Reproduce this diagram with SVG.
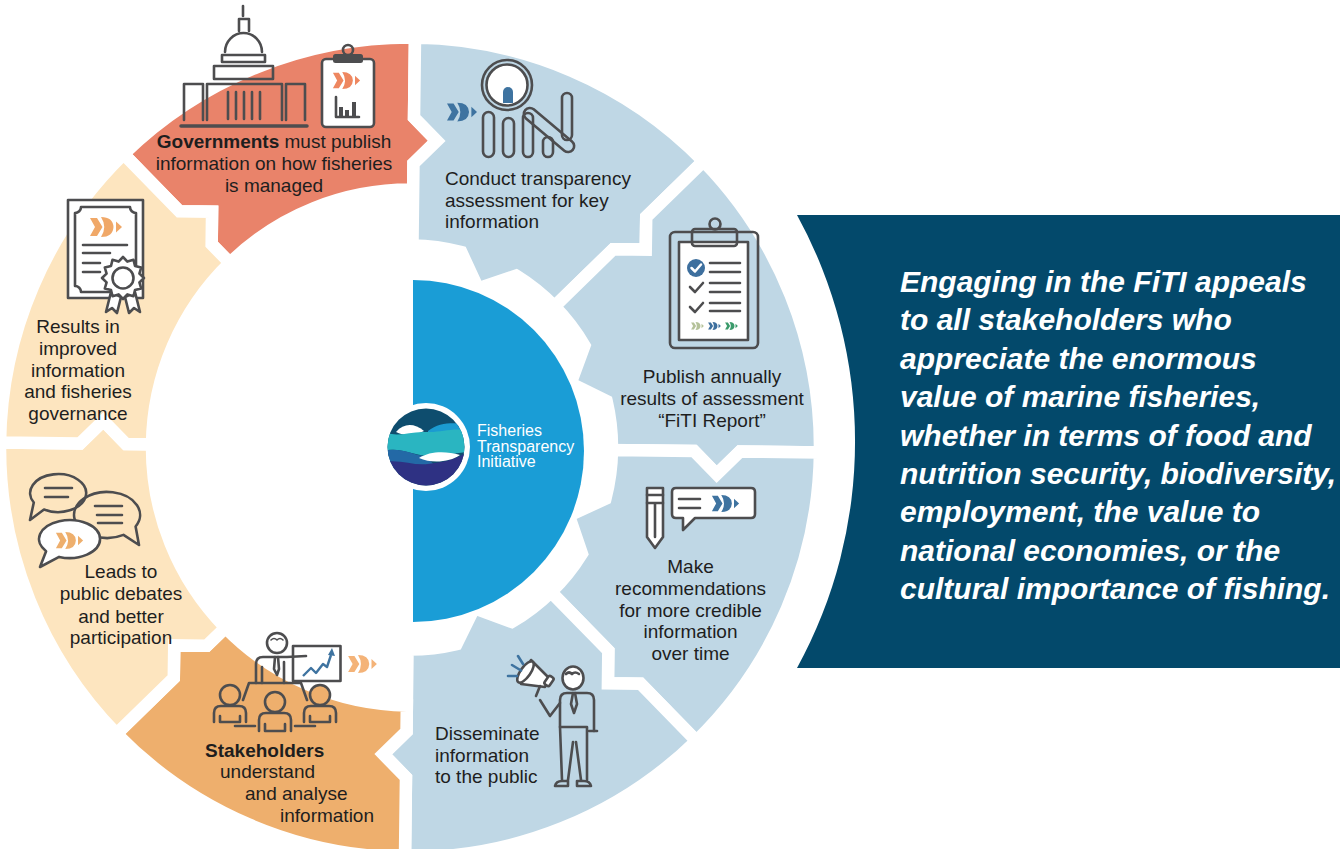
<svg xmlns="http://www.w3.org/2000/svg" xmlns:xlink="http://www.w3.org/1999/xlink" width="1340" height="849" viewBox="0 0 1340 849">
  <defs>
    <style>
      .seg { stroke: #ffffff; stroke-width: 12.5; stroke-linejoin: miter; }
      .blue { fill: #BFD7E5; }
      .red { fill: #E9836A; }
      .beige { fill: #FDE5BF; }
      .orange { fill: #EEAF6D; }
      .ic { fill: none; stroke: #4D4D4F; stroke-width: 2.6; stroke-linejoin: round; stroke-linecap: round; }
      .icw { fill: #ffffff; stroke: #4D4D4F; stroke-width: 2.6; stroke-linejoin: round; stroke-linecap: round; }
      .lbl { font-family: "Liberation Sans", Arial, sans-serif; font-size: 19px; fill: #1E1E1E; }
      .mid { text-anchor: middle; }
      .b { font-weight: bold; }
      .logo { font-family: "Liberation Sans", Arial, sans-serif; font-size: 16px; fill: #ffffff; }
      .panel { font-family: "Liberation Sans", Arial, sans-serif; font-size: 30px; font-weight: bold; font-style: italic; fill: #ffffff; }
    </style>
    <!-- stylised fish mark: tail chevron, body crescent, head -->
    <symbol id="fish" viewBox="0 0 32 20" overflow="visible">
      <path d="M0,1 H7 L12.5,10 L7,19 H0 L5,10 Z"/>
      <path d="M11,0 Q23,0 23.5,10 Q23,20 11,20 Q17.5,10 11,0 Z"/>
      <path d="M26,4.5 L32,10 L26,15.5 Z"/>
    </symbol>
    <clipPath id="logoClip">
      <circle cx="426" cy="447" r="38.5"/>
    </clipPath>
  </defs>

  <rect width="1340" height="849" fill="#ffffff"/>

  <!-- Governments -->
  <g id="node-governments">
    <path class="seg red" transform="translate(410 447.5) rotate(0.7)" d="M-289.9,-289.9 A410,410 0 0 1 0,-410 L0,-330 L23,-307 L0,-284 L0,-258 A258,258 0 0 0 -182.4,-182.4 L-200.8,-200.8 L-200.8,-233.3 L-233.4,-233.4 Z"/>
    <!-- capitol -->
    <g class="ic" stroke-width="3">
      <path d="M243,6 V16"/>
      <path d="M239,31 V19 H249 V31"/>
      <path d="M225,52 A18.5,19 0 0 1 262,52"/>
      <rect x="222" y="55" width="43" height="7"/>
      <rect x="214" y="66" width="59" height="13"/>
      <path d="M184,120 V84 H203 V120"/>
      <path d="M207,120 V84 H282 V120"/>
      <path d="M286,120 V84 H305 V120"/>
      <path d="M228,92 V119 M236,92 V119 M244,92 V119 M252,92 V119 M260,92 V119"/>
      <path d="M181,126 H307" stroke-width="3.5"/>
    </g>
    <!-- report clipboard -->
    <rect class="icw" x="322" y="59" width="52" height="68" rx="4" stroke-width="3"/>
    <circle class="ic" cx="348" cy="50" r="5" stroke-width="3"/>
    <rect x="333" y="54" width="30" height="9" rx="2.5" fill="#4D4D4F"/>
    <use href="#fish" x="330" y="72" width="33" height="17" fill="#EE8760"/>
    <path class="ic" d="M336,97 V117 H359" stroke-width="2.4"/>
    <rect x="339" y="107" width="4" height="9" fill="#4D4D4F"/>
    <rect x="345" y="110" width="4" height="6" fill="#4D4D4F"/>
    <rect x="352" y="102" width="4" height="14" fill="#4D4D4F"/>
    <text class="lbl mid" x="274" y="148"><tspan class="b">Governments</tspan> must publish</text>
    <text class="lbl mid" x="274" y="170">information on how fisheries</text>
    <text class="lbl mid" x="274" y="192">is managed</text>
  </g>

  <!-- Conduct transparency assessment -->
  <g id="node-assessment">
    <path class="seg blue" transform="translate(410 447.5) rotate(0.7)" d="M0,-410 A410,410 0 0 1 289.9,-289.9 L233.4,-233.4 L233.3,-200.8 L200.8,-200.8 L142.8,-142.8 A202,202 0 0 0 104,-173.2 L66.2,-159.8 L48.9,-196 A202,202 0 0 0 0,-202 L0,-284 L23,-307 L0,-330 Z"/>
    <use href="#fish" x="447" y="102" width="30" height="20" fill="#3E73A0"/>
    <g class="ic" stroke-width="2.8">
      <rect x="483" y="112" width="11" height="45" rx="5.5"/>
      <rect x="503" y="118" width="11" height="39" rx="5.5"/>
      <rect x="523" y="113" width="10" height="44" rx="5"/>
      <rect x="543" y="137" width="10" height="20" rx="5"/>
      <rect x="562" y="93" width="10" height="47" rx="5"/>
    </g>
    <rect class="ic" x="-31" y="-6" width="62" height="12" rx="6" transform="translate(549 130) rotate(40)" fill="#BFD7E5" stroke-width="2.8"/>
    <circle class="ic" cx="507" cy="85" r="25" fill="#BFD7E5" stroke-width="2.8"/>
    <circle class="icw" cx="507" cy="85" r="20.5" stroke-width="2.8"/>
    <path d="M503,103 V92 A5,5 0 0 1 513,92 V103 Z" fill="#3E73A0"/>
    <text class="lbl" x="445" y="185">Conduct transparency</text>
    <text class="lbl" x="445" y="207">assessment for key</text>
    <text class="lbl" x="445" y="228">information</text>
  </g>

  <!-- Publish annually -->
  <g id="node-publish">
    <path class="seg blue" transform="translate(410 447.5) rotate(0.7)" d="M289.9,-289.9 A410,410 0 0 1 410,0 L330,0 L307,23 L284,0 L202,0 A202,202 0 0 0 196,-48.9 L159.8,-66.2 L173.2,-104 A202,202 0 0 0 142.8,-142.8 L200.8,-200.8 L233.3,-200.8 L233.4,-233.4 Z"/>
    <rect class="ic" x="670" y="232" width="88" height="116" rx="5" stroke-width="3"/>
    <rect class="icw" x="679" y="242" width="69" height="98" stroke-width="2.6"/>
    <circle class="ic" cx="715" cy="224" r="5.5" fill="#B8BECE" stroke-width="2.6"/>
    <rect class="ic" x="692" y="229" width="45" height="17" rx="3" fill="#B8BECE" stroke-width="2.6"/>
    <circle cx="696" cy="268" r="9" fill="#3D6F9E"/>
    <path d="M691.5,268 L695,271.5 L701,264.5" fill="none" stroke="#ffffff" stroke-width="2.5" stroke-linecap="round" stroke-linejoin="round"/>
    <g class="ic" stroke-width="2.6">
      <path d="M710,263 H740 M710,272 H740 M710,283 H740 M710,292 H740 M710,303 H740 M710,311 H740"/>
      <path d="M690,287 L695,292 L703,283 M690,307 L695,312 L703,303"/>
    </g>
    <use href="#fish" x="691" y="322" width="13" height="8" fill="#B5C29A"/>
    <use href="#fish" x="708" y="322" width="13" height="8" fill="#3D6F9E"/>
    <use href="#fish" x="725" y="322" width="13" height="8" fill="#3A9A6B"/>
    <text class="lbl mid" x="712" y="383">Publish annually</text>
    <text class="lbl mid" x="712" y="405">results of assessment</text>
    <text class="lbl mid" x="712" y="427">“FiTI Report”</text>
  </g>

  <!-- Make recommendations -->
  <g id="node-recommendations">
    <path class="seg blue" transform="translate(410 447.5) rotate(0.7)" d="M410,0 A410,410 0 0 1 289.9,289.9 L233.4,233.4 L200.8,233.3 L200.8,200.8 L142.8,142.8 A202,202 0 0 0 173.2,104 L159.8,66.2 L196,48.9 A202,202 0 0 0 202,0 L284,0 L307,23 L330,0 Z"/>
    <path class="icw" d="M647,537 V488 H663 V537 L655,548 Z" stroke-width="2.8"/>
    <path class="ic" d="M647,495 H663 M647,503 H663 M655,503 V537" stroke-width="2.4"/>
    <path class="icw" d="M677,488 H751 Q755,488 755,492 V514 Q755,518 751,518 H695 L683,530 V518 H676 Q672,518 672,514 V492 Q672,488 676,488 Z" stroke-width="2.8"/>
    <path class="ic" d="M679,499 H700 M679,508 H700" stroke-width="2.6"/>
    <use href="#fish" x="710" y="495" width="31" height="17" fill="#3E73A0"/>
    <text class="lbl mid" x="690.5" y="573">Make</text>
    <text class="lbl mid" x="690.5" y="595">recommendations</text>
    <text class="lbl mid" x="690.5" y="617">for more credible</text>
    <text class="lbl mid" x="690.5" y="638">information</text>
    <text class="lbl mid" x="690.5" y="660">over time</text>
  </g>

  <!-- Disseminate information -->
  <g id="node-disseminate">
    <path class="seg blue" transform="translate(410 447.5) rotate(0.7)" d="M289.9,289.9 A410,410 0 0 1 0,410 L0,330 L-23,307 L0,284 L0,202 A202,202 0 0 0 48.9,196 L66.2,159.8 L104,173.2 A202,202 0 0 0 142.8,142.8 L200.8,200.8 L200.8,233.3 L233.4,233.4 Z"/>
    <g class="ic" stroke-width="2.4">
      <!-- body -->
      <path d="M560,727 V700 Q560,693 567,693 H587 Q594,693 594,700 V731"/>
      <path d="M589,731 H597"/>
      <path d="M560,727 H587 V780 M560,727 L562,780 M573,742 L568,780 M576,742 L581,780"/>
      <path d="M555,786 Q556,781 562,781 H568 V786 Z M577,786 V781 H584 Q590,781 591,786 Z"/>
      <path d="M573,693 L571,704 L574,713 L577,704 L575,693"/>
      <!-- raised arm -->
      <path d="M560,703 L550,716 L540,700"/>
      <!-- megaphone -->
      <path d="M531,660 L549,678 L545,687 L521,684 Z" fill="#ffffff"/>
      <ellipse cx="525.5" cy="672" rx="5" ry="12.5" transform="rotate(35 525.5 672)" fill="#ffffff"/>
      <rect x="546" y="676" width="6" height="10" rx="2" transform="rotate(35 549 681)" fill="#ffffff"/>
      <path d="M540,686 L536,696"/>
    </g>
    <ellipse class="icw" cx="573" cy="678" rx="10.5" ry="11.5" stroke-width="2.4"/>
    <path class="ic" d="M566,674 Q569,671 572,674 Q575,671 579,674" stroke-width="1.8"/>
    <path d="M508,676 H517 M512,665 L521,670.5 M518,656 L523,664" stroke="#3E73A0" stroke-width="2.6" stroke-linecap="round" fill="none"/>
    <text class="lbl" x="435" y="740">Disseminate</text>
    <text class="lbl" x="435" y="762">information</text>
    <text class="lbl" x="435" y="783">to the public</text>
  </g>

  <!-- Stakeholders -->
  <g id="node-stakeholders">
    <path class="seg orange" transform="translate(410 447.5) rotate(0.7)" d="M0,410 A410,410 0 0 1 -289.9,289.9 L-233.4,233.4 L-233.3,200.8 L-200.8,200.8 L-182.4,182.4 A258,258 0 0 0 0,258 L0,284 L-23,307 L0,330 Z"/>
    <rect class="icw" x="293" y="646" width="47.5" height="35" stroke-width="2.4"/>
    <path d="M303,676 L311,668 L316,673 L323,664 L327,667 L331,655" fill="none" stroke="#3E73A0" stroke-width="2.4" stroke-linejoin="round"/>
    <path d="M328,655 L332,648 L335,656 Z" fill="#3E73A0"/>
    <g class="ic" stroke-width="2.4">
      <!-- presenter -->
      <circle cx="277" cy="643" r="10"/>
      <path d="M271,640 Q274,637 277,640 Q280,637 283,640" stroke-width="1.6"/>
      <path d="M256,683 V664 Q256,657 263,657 H287 L306,656"/>
      <path d="M262,667 V683 M284,662 V683"/>
      <path d="M275,657 L274,669 L277,675 L279,669 L278,657"/>
      <!-- table -->
      <path d="M243,700 L249,683 H301 L307,700"/>
      <!-- audience -->
      <circle cx="230" cy="695" r="10" fill="#EEAF6D"/>
      <circle cx="275" cy="702" r="10" fill="#EEAF6D"/>
      <circle cx="320" cy="695" r="10" fill="#EEAF6D"/>
      <path d="M214,722 V713 Q214,706 221,706 H239 Q246,706 246,713 V722 M220,716 V722 H240 V716" fill="#EEAF6D"/>
      <path d="M259,731 V720 Q259,713 266,713 H284 Q291,713 291,720 V731 M265,724 V731 H285 V724" fill="#EEAF6D"/>
      <path d="M304,722 V713 Q304,706 311,706 H329 Q336,706 336,713 V722 M310,716 V722 H330 V716" fill="#EEAF6D"/>
      <path d="M235,726 H255 M295,726 H315"/>
    </g>
    <use href="#fish" x="347" y="655" width="31" height="18" fill="#F4B378"/>
    <text class="lbl b" x="205" y="757">Stakeholders</text>
    <text class="lbl" x="220" y="778">understand</text>
    <text class="lbl" x="245" y="800">and analyse</text>
    <text class="lbl" x="280" y="822">information</text>
  </g>

  <!-- Leads to public debates -->
  <g id="node-debates">
    <path class="seg beige" transform="translate(410 447.5) rotate(0.7)" d="M-289.9,289.9 A410,410 0 0 1 -410,0 L-330,0 L-307,-23 L-284,0 L-258,0 A258,258 0 0 0 -182.4,182.4 L-200.8,200.8 L-233.3,200.8 L-233.4,233.4 Z"/>
    <path class="ic" d="M44,509.5 A28,19 0 1 0 33.8,502.5 L30,520 Z" fill="#FDE5BF"/>
    <path class="ic" d="M45,488 H72 M45,497 H68"/>
    <path class="ic" d="M123.5,534.9 A33,23 0 1 1 135.6,526.5 L139,545 Z" fill="#FDE5BF"/>
    <path class="ic" d="M95,506 H122 M97,515 H122 M98,523 H122"/>
    <path class="icw" d="M59.1,556.9 A30.5,19 0 1 0 46.1,551.2 L40,567 Z"/>
    <use href="#fish" x="54" y="532" width="31" height="17" fill="#EEAF6D"/>
    <text class="lbl mid" x="121" y="578">Leads to</text>
    <text class="lbl mid" x="121" y="600">public debates</text>
    <text class="lbl mid" x="121" y="623">and better</text>
    <text class="lbl mid" x="121" y="644">participation</text>
  </g>

  <!-- Results in improved governance -->
  <g id="node-governance">
    <path class="seg beige" transform="translate(410 447.5) rotate(0.7)" d="M-410,0 A410,410 0 0 1 -289.9,-289.9 L-233.4,-233.4 L-200.8,-233.3 L-200.8,-200.8 L-182.4,-182.4 A258,258 0 0 0 -258,0 L-284,0 L-307,-23 L-330,0 Z"/>
    <rect class="icw" x="68" y="200" width="75" height="98" stroke-width="3"/>
    <path class="ic" d="M81,207 H130 A6,6 0 0 0 136,213 V286 A6,6 0 0 0 130,292 H81 A6,6 0 0 0 75,286 V213 A6,6 0 0 0 81,207 Z" stroke-width="2.4"/>
    <use href="#fish" x="90" y="217" width="32" height="20" fill="#F0A868"/>
    <path class="ic" d="M83,245 H127 M83,253 H110 M83,263 H100 M83,272 H100" stroke-width="2.6"/>
    <path class="icw" d="M111,292 L106,312 L112,308 L117,313 L121,297 Z M125,297 L129,313 L134,308 L140,312 L135,292 Z" stroke-width="2.4"/>
    <polygon class="icw" stroke-width="2.4" points="144,278 139.4,282.4 141.2,288.5 135,290 133.5,296.2 127.4,294.4 123,299 118.6,294.4 112.5,296.2 111,290 104.8,288.5 106.6,282.4 102,278 106.6,273.6 104.8,267.5 111,266 112.5,259.8 118.6,261.6 123,257 127.4,261.6 133.5,259.8 135,266 141.2,267.5 139.4,273.6"/>
    <circle class="ic" cx="123" cy="278" r="10.5" stroke-width="2.4"/>
    <text class="lbl mid" x="78" y="333">Results in</text>
    <text class="lbl mid" x="78" y="355">improved</text>
    <text class="lbl mid" x="78" y="377">information</text>
    <text class="lbl mid" x="78" y="398">and fisheries</text>
    <text class="lbl mid" x="78" y="420">governance</text>
  </g>

  <!-- centre: FiTI half disc and logo -->
  <g id="node-fiti">
    <path d="M413,280 A171,171 0 0 1 413,622 Z" fill="#1A9DD6"/>
    <circle cx="426" cy="447" r="44" fill="#ffffff"/>
    <g clip-path="url(#logoClip)">
      <rect x="385" y="406" width="84" height="84" fill="#0E4D6E"/>
      <path d="M428,431 C440,421 455,423 470,424 L470,438 L428,438 Z" fill="#1B9BD1"/>
      <path d="M396,432 C404,423 414,423 424,431 C414,436 404,436 396,432 Z" fill="#ffffff"/>
      <path d="M384,432 C398,438 410,431 426,432 C442,433 452,427 470,431 L470,452 C454,452 442,458 426,456 C410,454 398,447 384,451 Z" fill="#2AB5C1"/>
      <path d="M384,451 C398,447 410,453 426,457 L440,470 L384,470 Z" fill="#2369A6"/>
      <path d="M384,462 C400,459 414,466 428,464 C444,462 456,460 470,450 L470,492 L384,492 Z" fill="#2E3183"/>
      <path d="M419,458 C430,451 446,451 460,455 C450,462 432,464 419,458 Z" fill="#ffffff"/>
    </g>
    <text class="logo"><tspan x="477" y="436">Fisheries</tspan><tspan x="477" y="452">Transparency</tspan><tspan x="477" y="467">Initiative</tspan></text>
  </g>

  <!-- statement panel -->
  <g id="node-statement">
    <path d="M797,215 H1340 V668 H797 A471,471 0 0 0 797,215 Z" fill="#03496B"/>
    <text class="panel" x="900" y="292">Engaging in the FiTI appeals</text>
    <text class="panel" x="900" y="330.4">to all stakeholders who</text>
    <text class="panel" x="900" y="368.8">appreciate the enormous</text>
    <text class="panel" x="900" y="407.2">value of marine fisheries,</text>
    <text class="panel" x="900" y="445.6">whether in terms of food and</text>
    <text class="panel" x="900" y="484">nutrition security, biodiversity,</text>
    <text class="panel" x="900" y="522.4">employment, the value to</text>
    <text class="panel" x="900" y="560.8">national economies, or the</text>
    <text class="panel" x="900" y="599.2">cultural importance of fishing.</text>
  </g>
</svg>
